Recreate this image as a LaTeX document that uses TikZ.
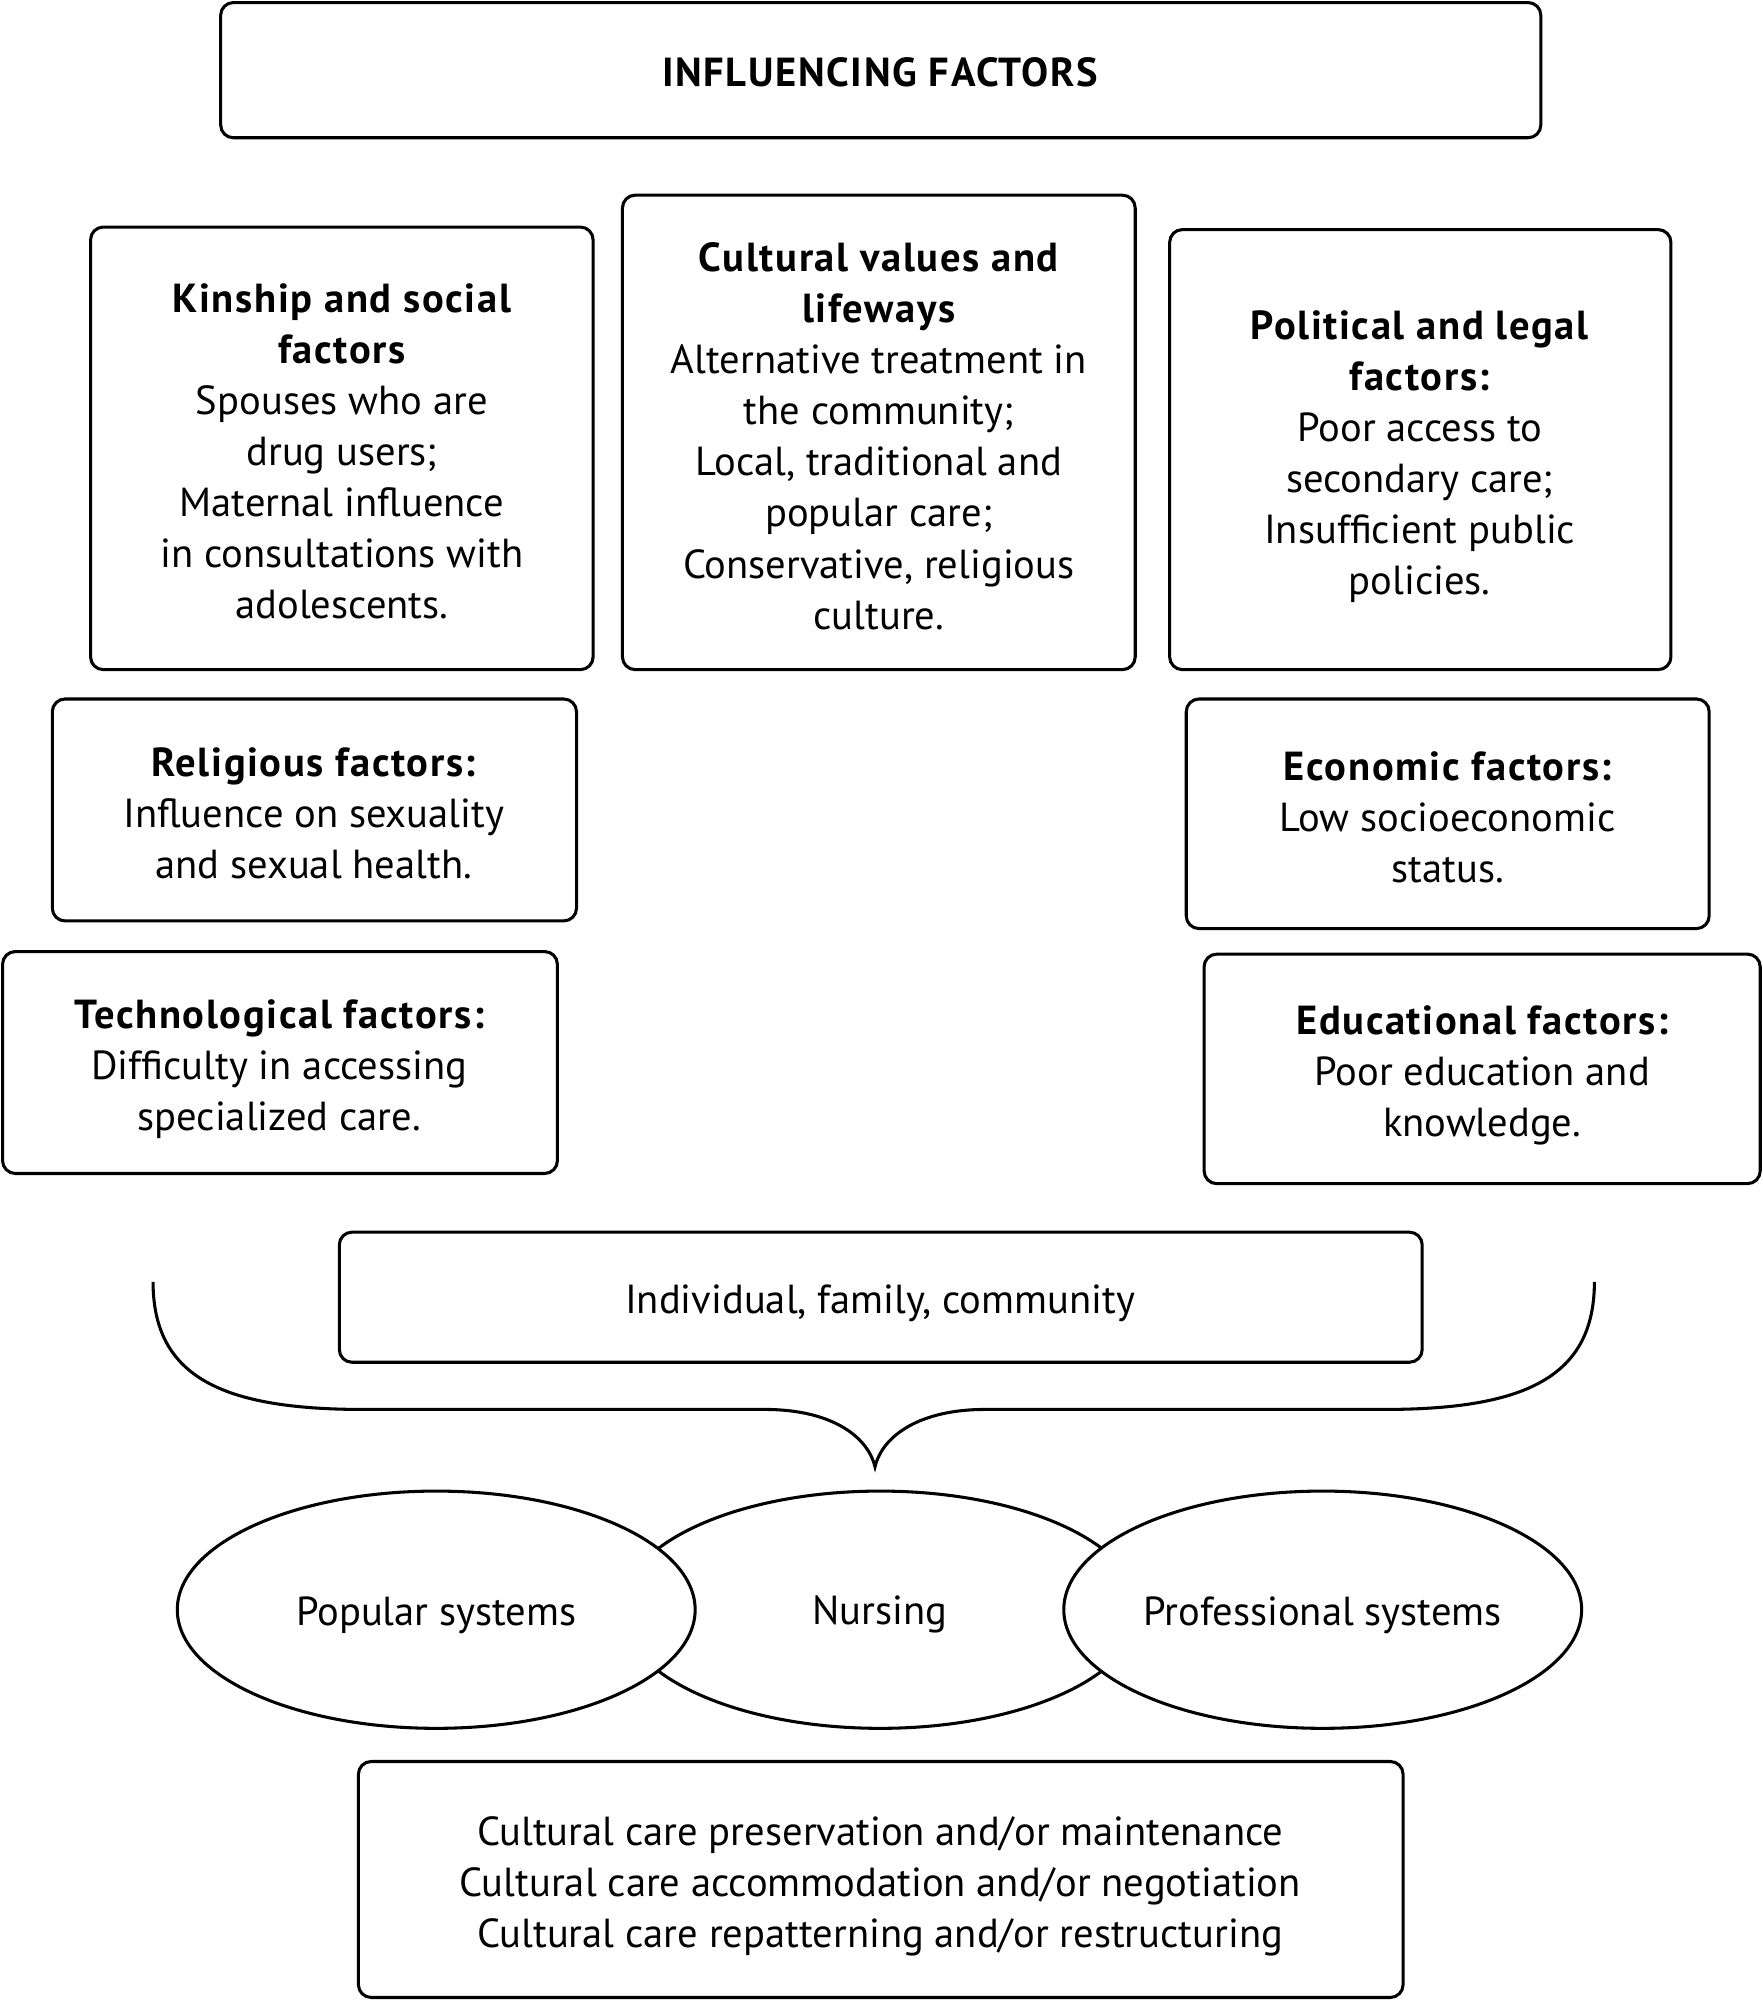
\documentclass[tikz,border=0pt]{standalone}
\usepackage{fontspec}
\setmainfont{PT Sans}[BoldFeatures={LetterSpace=4}]
\tikzset{
  box/.style={line width=1.2pt, rounded corners=5pt},
  oval/.style={line width=1.2pt, fill=white},
  txt/.style={align=center, inner sep=0pt, font=\fontsize{15.9}{20}\selectfont},
}
\begin{document}
\begin{tikzpicture}[x=0.5pt,y=0.5pt,yscale=-1,xscale=1]
\useasboundingbox (0,0) rectangle (1382,1568);

%Shape: Rounded Rect
\draw [box] (173,2) rectangle (1208,108);
%Shape: Rounded Rect
\draw [box] (71,178) rectangle (465,525);
%Shape: Rounded Rect
\draw [box] (488,153) rectangle (890,525);
%Shape: Rounded Rect
\draw [box] (917,180) rectangle (1310,525);
%Shape: Rounded Rect
\draw [box] (41,548) rectangle (452,722);
%Shape: Rounded Rect
\draw [box] (930,548) rectangle (1340,728);
%Shape: Rounded Rect
\draw [box] (2,746) rectangle (437,920);
%Shape: Rounded Rect
\draw [box] (944,748) rectangle (1380,928);
%Shape: Rounded Rect
\draw [box] (266,966) rectangle (1115,1068);
%Shape: Rounded Rect
\draw [box] (281,1381) rectangle (1100,1566);

%Curve Lines
\draw [line width=1.2pt] (120,1005) .. controls (120,1080) and (175,1105) .. (285,1105) -- (600,1105) .. controls (650,1105) and (680,1125) .. (686,1150) .. controls (692,1125) and (722,1105) .. (772,1105) -- (1085,1105) .. controls (1195,1105) and (1250,1080) .. (1250,1005) ;

%Shape: Ellipse
\draw [oval] (690,1262) ellipse (203 and 93);
%Shape: Ellipse
\draw [oval] (342,1262) ellipse (203 and 93);
%Shape: Ellipse
\draw [oval] (1037,1262) ellipse (203 and 93);

% Text Node
\node [txt] (title) at (690,57) {\bfseries INFLUENCING FACTORS};
% Text Node
\node [txt] (kinship) at (268,354) {\bfseries Kinship and social\\\bfseries factors\\Spouses who are\\drug users;\\Maternal influence\\in consultations with\\adolescents.};
% Text Node
\node [txt] (values) at (689,342) {\bfseries Cultural values and\\\bfseries lifeways\\Alternative treatment in\\the community;\\Local, traditional and\\popular care;\\Conservative, religious\\culture.};
% Text Node
\node [txt] (political) at (1113,358) {\bfseries Political and legal\\\bfseries factors:\\Poor access to\\secondary care;\\Insufficient public\\policies.};
% Text Node
\node [txt] (religious) at (246,638) {\bfseries Religious factors:\\Influence on sexuality\\and sexual health.};
% Text Node
\node [txt] (economic) at (1135,641) {\bfseries Economic factors:\\Low socioeconomic\\status.};
% Text Node
\node [txt] (techno) at (219,838) {\bfseries Technological factors:\\Difficulty in accessing\\specialized care.};
% Text Node
\node [txt] (educ) at (1162,843) {\bfseries Educational factors:\\Poor education and\\knowledge.};
% Text Node
\node [txt] (people) at (690,1022) {Individual, family, community};
% Text Node
\node [txt] (popular) at (342,1266) {Popular systems};
% Text Node
\node [txt] (nursing) at (690,1266) {Nursing};
% Text Node
\node [txt] (profsys) at (1037,1266) {Professional systems};
% Text Node
\node [txt] (care) at (690,1479) {Cultural care preservation and/or maintenance\\Cultural care accommodation and/or negotiation\\Cultural care repatterning and/or restructuring};

\end{tikzpicture}
\end{document}
